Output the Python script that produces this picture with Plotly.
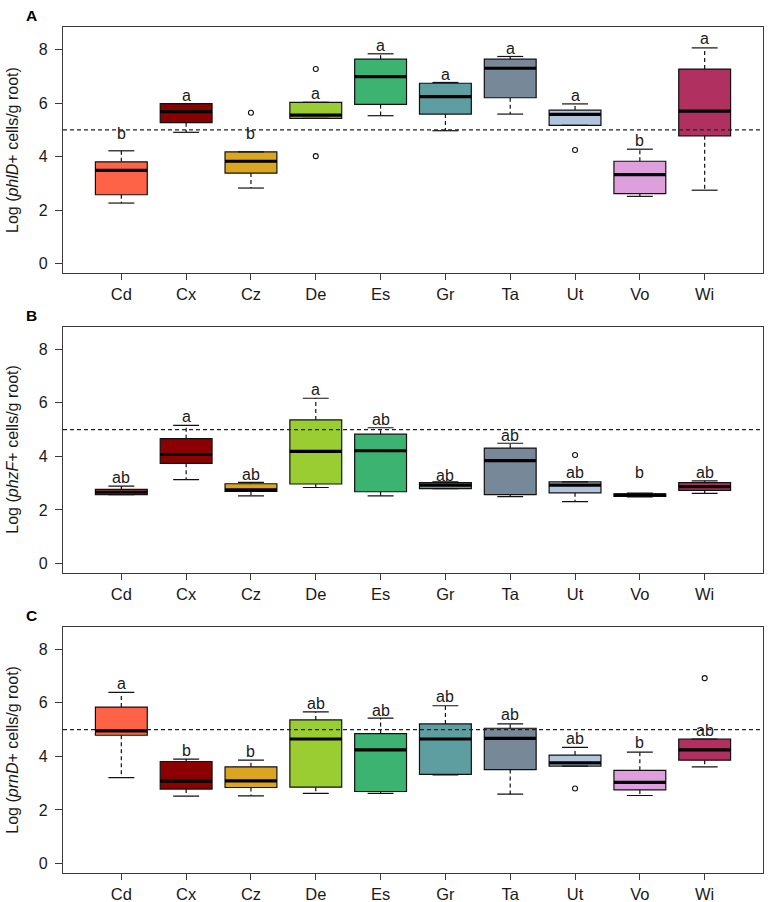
import plotly.graph_objects as go

categories = ["Cd", "Cx", "Cz", "De", "Es", "Gr", "Ta", "Ut", "Vo", "Wi"]
colors = ["#FF6347", "#8B0000", "#DAA520", "#9ACD32", "#3CB371",
          "#5F9EA0", "#778899", "#B0C4DE", "#DDA0DD", "#B03060"]
y_ticks = [0, 2, 4, 6, 8]
threshold = 5

# Panel A: phlD
a_lower = [2.27, 4.91, 2.83, 5.43, 5.53, 4.97, 5.59, 5.17, 2.52, 2.75]
a_q1 = [2.58, 5.27, 3.39, 5.43, 5.95, 5.59, 6.20, 5.17, 2.62, 4.78]
a_med = [3.49, 5.68, 3.83, 5.55, 6.99, 6.24, 7.30, 5.58, 3.33, 5.70]
a_q3 = [3.81, 5.98, 4.18, 6.03, 7.64, 6.74, 7.64, 5.74, 3.83, 7.27]
a_upper = [4.22, 5.98, 4.18, 6.03, 7.84, 6.77, 7.74, 5.97, 4.28, 8.06]
a_out_cat = ["Cz", "De", "De", "Ut"]
a_out_val = [5.64, 7.27, 4.02, 4.25]
a_letters = ["b", "a", "b", "a", "a", "a", "a", "a", "b", "a"]
a_letter_y = [4.62, 6.05, 4.62, 6.12, 7.90, 6.84, 7.80, 6.05, 4.37, 8.15]

# Panel B: phzF
b_lower = [2.57, 3.13, 2.53, 2.84, 2.53, 2.80, 2.50, 2.31, 2.49, 2.62]
b_q1 = [2.57, 3.74, 2.69, 2.97, 2.68, 2.80, 2.57, 2.64, 2.51, 2.73]
b_med = [2.67, 4.07, 2.75, 4.19, 4.21, 2.93, 3.84, 2.93, 2.56, 2.87]
b_q3 = [2.77, 4.66, 2.98, 5.36, 4.83, 3.02, 4.31, 3.05, 2.60, 3.02]
b_upper = [2.89, 5.16, 3.03, 6.17, 5.07, 3.05, 4.49, 3.05, 2.63, 3.09]
b_out_cat = ["Ut"]
b_out_val = [4.05]
b_letters = ["ab", "a", "ab", "a", "ab", "ab", "ab", "ab", "b", "ab"]
b_letter_y = [2.97, 5.23, 3.09, 6.26, 5.13, 3.05, 4.55, 3.14, 3.15, 3.14]

# Panel C: prnD
c_lower = [3.21, 2.52, 2.53, 2.62, 2.62, 3.31, 2.59, 3.64, 2.54, 3.61]
c_q1 = [4.79, 2.78, 2.84, 2.85, 2.69, 3.33, 3.51, 3.64, 2.75, 3.86]
c_med = [4.95, 3.08, 3.09, 4.65, 4.24, 4.65, 4.67, 3.76, 3.03, 4.24]
c_q3 = [5.84, 3.81, 3.61, 5.36, 4.85, 5.21, 5.05, 4.05, 3.48, 4.65]
c_upper = [6.39, 3.90, 3.86, 5.66, 5.43, 5.89, 5.21, 4.34, 4.16, 4.65]
c_out_cat = ["Ut", "Wi"]
c_out_val = [2.80, 6.92]
c_letters = ["a", "b", "b", "ab", "ab", "ab", "ab", "ab", "b", "ab"]
c_letter_y = [6.48, 3.99, 3.95, 5.73, 5.48, 5.98, 5.32, 4.42, 4.26, 4.71]

panels = [
    dict(tag="A", gene="phlD", lower=a_lower, q1=a_q1, med=a_med, q3=a_q3, upper=a_upper,
         out_cat=a_out_cat, out_val=a_out_val, letters=a_letters, letter_y=a_letter_y),
    dict(tag="B", gene="phzF", lower=b_lower, q1=b_q1, med=b_med, q3=b_q3, upper=b_upper,
         out_cat=b_out_cat, out_val=b_out_val, letters=b_letters, letter_y=b_letter_y),
    dict(tag="C", gene="prnD", lower=c_lower, q1=c_q1, med=c_med, q3=c_q3, upper=c_upper,
         out_cat=c_out_cat, out_val=c_out_val, letters=c_letters, letter_y=c_letter_y),
]

W, H = 769, 902
FONT = "Arial, Liberation Sans, sans-serif"
TXT = "#1a1a1a"
FRAME = "#3a3a3a"
BOX_W = 0.8
STAPLE_HALF = 0.2

x_dom = [63 / W, 763 / W]
y_doms = [(27, 273), (326.7, 572.7), (626.7, 872.7)]

fig = go.Figure()
annotations = []
shapes = []

for p_i, p in enumerate(panels):
    n = "" if p_i == 0 else str(p_i + 1)
    xa, ya = "x" + n, "y" + n
    pos = list(range(1, len(categories) + 1))
    for i, cat in enumerate(categories):
        fig.add_trace(go.Box(
            x=[pos[i]], q1=[p["q1"][i]], median=[p["med"][i]], q3=[p["q3"][i]],
            lowerfence=[p["q1"][i]], upperfence=[p["q3"][i]],
            width=BOX_W, whiskerwidth=0, fillcolor=colors[i],
            line=dict(color="#111111", width=1.2), boxpoints=False,
            showlegend=False, hoverinfo="skip", xaxis=xa, yaxis=ya))
    wx, wy = [], []
    for i in range(len(categories)):
        if p["upper"][i] > p["q3"][i]:
            wx += [pos[i], pos[i], None]
            wy += [p["q3"][i], p["upper"][i], None]
        if p["lower"][i] < p["q1"][i]:
            wx += [pos[i], pos[i], None]
            wy += [p["q1"][i], p["lower"][i], None]
    fig.add_trace(go.Scatter(x=wx, y=wy, mode="lines",
                             line=dict(color="#111111", width=1.2, dash="4px,3px"),
                             showlegend=False, hoverinfo="skip", xaxis=xa, yaxis=ya))
    sx, sy = [], []
    for i in range(len(categories)):
        for v in (p["upper"][i], p["lower"][i]):
            sx += [pos[i] - STAPLE_HALF, pos[i] + STAPLE_HALF, None]
            sy += [v, v, None]
    fig.add_trace(go.Scatter(x=sx, y=sy, mode="lines",
                             line=dict(color="#111111", width=1.2),
                             showlegend=False, hoverinfo="skip", xaxis=xa, yaxis=ya))
    mx, my = [], []
    for i in range(len(categories)):
        mx += [pos[i] - BOX_W / 2, pos[i] + BOX_W / 2, None]
        my += [p["med"][i], p["med"][i], None]
    fig.add_trace(go.Scatter(x=mx, y=my, mode="lines",
                             line=dict(color="#000000", width=3.2),
                             showlegend=False, hoverinfo="skip", xaxis=xa, yaxis=ya))
    fig.add_trace(go.Scatter(
        x=[categories.index(c) + 1 for c in p["out_cat"]], y=p["out_val"], mode="markers",
        marker=dict(symbol="circle-open", size=5, color="#111111", line=dict(width=1.1)),
        showlegend=False, hoverinfo="skip", xaxis=xa, yaxis=ya))
    for i in range(len(categories)):
        annotations.append(dict(x=pos[i], y=p["letter_y"][i], xref=xa, yref=ya,
                                text=p["letters"][i], showarrow=False,
                                yanchor="bottom", yshift=-4,
                                font=dict(family=FONT, size=16, color=TXT)))
    shapes.append(dict(type="line", xref=xa + " domain", yref=ya, x0=0, x1=1,
                       y0=threshold, y1=threshold,
                       line=dict(color="#222222", width=1.2, dash="4px,3px")))
    top, bot = y_doms[p_i]
    dom = [1 - bot / H, 1 - top / H]
    axis_common = dict(showline=True, linecolor=FRAME, linewidth=1.3, mirror=True,
                       showgrid=False, zeroline=False, ticks="outside",
                       tickcolor=FRAME, tickwidth=1.2)
    fig.update_layout(**{
        ("xaxis" + n): dict(domain=x_dom, range=[0.1, 10.9], tickmode="array",
                            tickvals=pos, ticktext=categories, anchor=ya,
                            ticklen=6, ticklabelstandoff=0,
                            tickfont=dict(family=FONT, size=16.5, color=TXT), **axis_common),
        ("yaxis" + n): dict(domain=dom, range=[-0.34, 8.84], tickmode="array",
                            tickvals=y_ticks, ticktext=[str(t) for t in y_ticks],
                            anchor=xa, ticklen=7, ticklabelstandoff=4,
                            tickfont=dict(family=FONT, size=16, color=TXT), **axis_common),
    })
    annotations.append(dict(x=13 / W, y=(dom[0] + dom[1]) / 2, xref="paper", yref="paper",
                            text="Log (<i>%s</i>+ cells/g root)" % p["gene"], textangle=-90,
                            showarrow=False, xanchor="center", yanchor="middle",
                            font=dict(family=FONT, size=16, color=TXT)))
    annotations.append(dict(x=31 / W, y=1 - (top - 11) / H, xref="paper", yref="paper",
                            text="<b>%s</b>" % p["tag"], showarrow=False,
                            xanchor="center", yanchor="middle",
                            font=dict(family=FONT, size=15.5, color="#000000")))

fig.update_layout(width=W, height=H, margin=dict(l=0, r=0, t=0, b=0),
                  paper_bgcolor="white", plot_bgcolor="white",
                  annotations=annotations, shapes=shapes, showlegend=False)

fig.write_html("out.html", config={"displayModeBar": False},
               post_script="document.body.style.margin='0';document.body.style.overflow='hidden';")
